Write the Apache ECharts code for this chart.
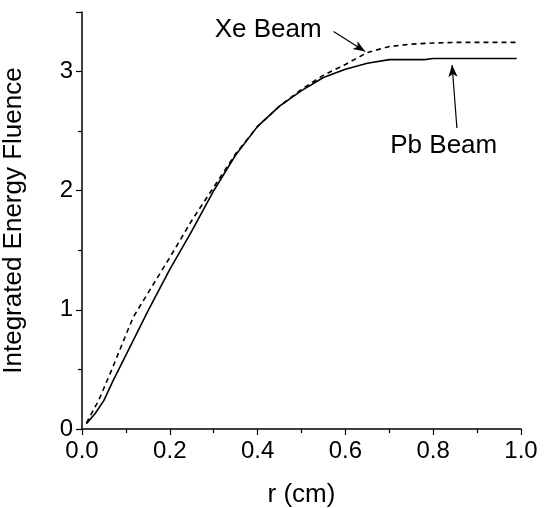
<!DOCTYPE html>
<html>
<head>
<meta charset="utf-8">
<script src="https://cdn.jsdelivr.net/npm/echarts@6/dist/echarts.min.js"></script>
<style>
html,body{margin:0;padding:0;background:#fff;}
#chart{width:544px;height:508px;}
</style>
</head>
<body>
<div id="chart"></div>
<script>
// Radius values (cm) and integrated energy fluence for the two beams
const pbR = [0.01, 0.03, 0.05, 0.07, 0.1, 0.15, 0.2, 0.25, 0.3, 0.35, 0.4, 0.45, 0.5, 0.55, 0.6, 0.65, 0.7, 0.75, 0.78, 0.8, 0.9, 0.99];
const pbV = [0.045, 0.13, 0.24, 0.40, 0.62, 0.99, 1.34, 1.66, 2.00, 2.30, 2.54, 2.71, 2.84, 2.95, 3.02, 3.07, 3.10, 3.10, 3.10, 3.11, 3.11, 3.11];
const xeR = [0.01, 0.038, 0.068, 0.1, 0.117, 0.15, 0.2, 0.25, 0.3, 0.35, 0.4, 0.45, 0.5, 0.55, 0.6, 0.65, 0.7, 0.75, 0.8, 0.85, 0.99];
const xeV = [0.05, 0.24, 0.50, 0.79, 0.94, 1.14, 1.44, 1.75, 2.03, 2.31, 2.54, 2.71, 2.85, 2.97, 3.06, 3.16, 3.21, 3.23, 3.24, 3.245, 3.245];
const xTicks = [0.0, 0.2, 0.4, 0.6, 0.8, 1.0];
const yTicks = [0, 1, 2, 3];
const xeLabel = 'Xe Beam';
const pbLabel = 'Pb Beam';
const xeLabelAt = [0.424, 3.35];
const pbLabelAt = [0.824, 2.374];
const xeArrow = [[0.573, 3.336], [0.645, 3.168]];
const pbArrow = [[0.854, 2.526], [0.843, 3.055]];

const font = 'Liberation Sans, Arial, Helvetica, sans-serif';
const zip = (a, b) => a.map((v, i) => [v, b[i]]);

const chart = echarts.init(document.getElementById('chart'), null, {renderer: 'canvas'});
const axisCommon = {
  axisLine: {show: true, lineStyle: {color: '#000', width: 1.5}},
  axisTick: {show: true, inside: false, length: 6, lineStyle: {color: '#000', width: 1.2}},
  minorTick: {show: true, splitNumber: 2, length: 4, lineStyle: {color: '#000', width: 1.2}},
  splitLine: {show: false},
  nameTextStyle: {color: '#000', fontSize: 26, fontFamily: font},
};
chart.setOption({
  animation: false,
  backgroundColor: '#fff',
  grid: {left: 82, right: 23, top: 12, bottom: 79, containLabel: false, outerBoundsMode: 'none'},
  xAxis: Object.assign({}, axisCommon, {
    type: 'value', min: 0, max: 1.0, interval: 0.2,
    name: 'r (cm)', nameLocation: 'middle', nameGap: 53,
    axisLabel: {color: '#000', fontSize: 24, fontFamily: font, margin: 10,
      formatter: v => xTicks.find(t => Math.abs(t - v) < 1e-9) !== undefined ? v.toFixed(1) : ''}
  }),
  yAxis: Object.assign({}, axisCommon, {
    type: 'value', min: 0, max: 3.5, interval: 1,
    name: 'Integrated Energy Fluence', nameLocation: 'middle', nameGap: 55,
    axisLabel: {color: '#000', fontSize: 24, fontFamily: font, margin: 9,
      formatter: v => yTicks.indexOf(v) >= 0 ? String(v) : ''}
  }),
  series: [
    {
      name: pbLabel, type: 'line', data: zip(pbR, pbV), showSymbol: false, smooth: false,
      lineStyle: {color: '#000', width: 1.6, type: 'solid'},
      markLine: {
        silent: true, symbol: ['none', 'arrow'], symbolSize: [7, 12],
        label: {show: false},
        lineStyle: {color: '#000', width: 1.2, type: 'solid'},
        data: [[{coord: pbArrow[0]}, {coord: pbArrow[1]}]]
      },
      markPoint: {
        silent: true, symbol: 'circle', symbolSize: 0,
        label: {show: true, position: 'inside', color: '#000', fontSize: 26, fontFamily: font, formatter: '{b}'},
        data: [{name: pbLabel, coord: pbLabelAt}]
      }
    },
    {
      name: xeLabel, type: 'line', data: zip(xeR, xeV), showSymbol: false, smooth: false,
      lineStyle: {color: '#000', width: 1.6, type: [5, 4]},
      markLine: {
        silent: true, symbol: ['none', 'arrow'], symbolSize: [7, 12],
        label: {show: false},
        lineStyle: {color: '#000', width: 1.2, type: 'solid'},
        data: [[{coord: xeArrow[0]}, {coord: xeArrow[1]}]]
      },
      markPoint: {
        silent: true, symbol: 'circle', symbolSize: 0,
        label: {show: true, position: 'inside', color: '#000', fontSize: 26, fontFamily: font, formatter: '{b}'},
        data: [{name: xeLabel, coord: xeLabelAt}]
      }
    }
  ]
});
</script>
</body>
</html>
